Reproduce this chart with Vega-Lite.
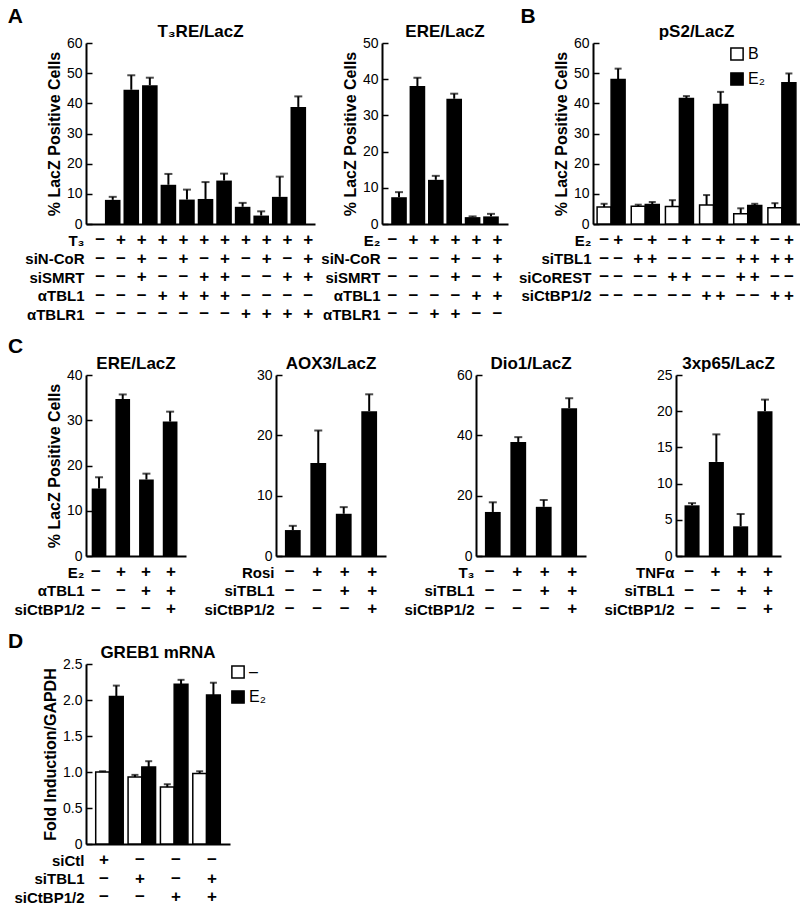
{
"$schema": "https://vega.github.io/schema/vega-lite/v6.json",
"padding": {"left": 7, "top": 6, "right": 4, "bottom": 0},
"config": {
  "font": "Liberation Sans",
  "view": {"stroke": null},
  "axis": {"domainColor": "black", "domainWidth": 2, "tickColor": "black", "tickWidth": 1.5, "labelColor": "black", "labelFontSize": 14, "titleColor": "black", "titleFontSize": 16, "titleFontWeight": "bold", "grid": false, "titlePadding": 4, "labelOverlap": false},
  "axisY": {"tickSize": -6, "labelPadding": 10},
  "title": {"fontSize": 17, "fontWeight": "bold", "color": "black", "offset": -5},
  "text": {"fontSize": 17, "fontWeight": "bold", "color": "black"}
},
"resolve": {"scale": {"fill": "independent", "xOffset": "independent"}, "legend": {"fill": "independent"}},
"datasets": {
  "a1": [{"c":1,"v":8,"e":9},{"c":2,"v":44.5,"e":49.3},{"c":3,"v":46,"e":48.5},{"c":4,"v":13,"e":16.6},{"c":5,"v":8.1,"e":11.4},{"c":6,"v":8.3,"e":13.9},{"c":7,"v":14.4,"e":16.7},{"c":8,"v":5.7,"e":7},{"c":9,"v":2.8,"e":4.2},{"c":10,"v":9,"e":15.7},{"c":11,"v":38.8,"e":42.3}],
  "a1t": [
    {"c":1,"r":"T₃","s":"−"},{"c":2,"r":"T₃","s":"+"},{"c":3,"r":"T₃","s":"+"},{"c":4,"r":"T₃","s":"+"},{"c":5,"r":"T₃","s":"+"},{"c":6,"r":"T₃","s":"+"},{"c":7,"r":"T₃","s":"+"},{"c":8,"r":"T₃","s":"+"},{"c":9,"r":"T₃","s":"+"},{"c":10,"r":"T₃","s":"+"},{"c":11,"r":"T₃","s":"+"},
    {"c":1,"r":"siN-CoR","s":"−"},{"c":2,"r":"siN-CoR","s":"−"},{"c":3,"r":"siN-CoR","s":"+"},{"c":4,"r":"siN-CoR","s":"−"},{"c":5,"r":"siN-CoR","s":"+"},{"c":6,"r":"siN-CoR","s":"−"},{"c":7,"r":"siN-CoR","s":"+"},{"c":8,"r":"siN-CoR","s":"−"},{"c":9,"r":"siN-CoR","s":"+"},{"c":10,"r":"siN-CoR","s":"−"},{"c":11,"r":"siN-CoR","s":"+"},
    {"c":1,"r":"siSMRT","s":"−"},{"c":2,"r":"siSMRT","s":"−"},{"c":3,"r":"siSMRT","s":"+"},{"c":4,"r":"siSMRT","s":"−"},{"c":5,"r":"siSMRT","s":"−"},{"c":6,"r":"siSMRT","s":"+"},{"c":7,"r":"siSMRT","s":"+"},{"c":8,"r":"siSMRT","s":"−"},{"c":9,"r":"siSMRT","s":"−"},{"c":10,"r":"siSMRT","s":"+"},{"c":11,"r":"siSMRT","s":"+"},
    {"c":1,"r":"αTBL1","s":"−"},{"c":2,"r":"αTBL1","s":"−"},{"c":3,"r":"αTBL1","s":"−"},{"c":4,"r":"αTBL1","s":"+"},{"c":5,"r":"αTBL1","s":"+"},{"c":6,"r":"αTBL1","s":"+"},{"c":7,"r":"αTBL1","s":"+"},{"c":8,"r":"αTBL1","s":"−"},{"c":9,"r":"αTBL1","s":"−"},{"c":10,"r":"αTBL1","s":"−"},{"c":11,"r":"αTBL1","s":"−"},
    {"c":1,"r":"αTBLR1","s":"−"},{"c":2,"r":"αTBLR1","s":"−"},{"c":3,"r":"αTBLR1","s":"−"},{"c":4,"r":"αTBLR1","s":"−"},{"c":5,"r":"αTBLR1","s":"−"},{"c":6,"r":"αTBLR1","s":"−"},{"c":7,"r":"αTBLR1","s":"−"},{"c":8,"r":"αTBLR1","s":"+"},{"c":9,"r":"αTBLR1","s":"+"},{"c":10,"r":"αTBLR1","s":"+"},{"c":11,"r":"αTBLR1","s":"+"}
  ],
  "a2": [{"c":1,"v":7.4,"e":8.8},{"c":2,"v":38.1,"e":40.4},{"c":3,"v":12.2,"e":13.3},{"c":4,"v":34.6,"e":36},{"c":5,"v":1.9,"e":2.1},{"c":6,"v":2.1,"e":2.8}],
  "a2t": [
    {"c":1,"r":"E₂","s":"−"},{"c":2,"r":"E₂","s":"+"},{"c":3,"r":"E₂","s":"+"},{"c":4,"r":"E₂","s":"+"},{"c":5,"r":"E₂","s":"+"},{"c":6,"r":"E₂","s":"+"},
    {"c":1,"r":"siN-CoR","s":"−"},{"c":2,"r":"siN-CoR","s":"−"},{"c":3,"r":"siN-CoR","s":"−"},{"c":4,"r":"siN-CoR","s":"+"},{"c":5,"r":"siN-CoR","s":"−"},{"c":6,"r":"siN-CoR","s":"+"},
    {"c":1,"r":"siSMRT","s":"−"},{"c":2,"r":"siSMRT","s":"−"},{"c":3,"r":"siSMRT","s":"−"},{"c":4,"r":"siSMRT","s":"+"},{"c":5,"r":"siSMRT","s":"−"},{"c":6,"r":"siSMRT","s":"+"},
    {"c":1,"r":"αTBL1","s":"−"},{"c":2,"r":"αTBL1","s":"−"},{"c":3,"r":"αTBL1","s":"−"},{"c":4,"r":"αTBL1","s":"−"},{"c":5,"r":"αTBL1","s":"+"},{"c":6,"r":"αTBL1","s":"+"},
    {"c":1,"r":"αTBLR1","s":"−"},{"c":2,"r":"αTBLR1","s":"−"},{"c":3,"r":"αTBLR1","s":"+"},{"c":4,"r":"αTBLR1","s":"+"},{"c":5,"r":"αTBLR1","s":"−"},{"c":6,"r":"αTBLR1","s":"−"}
  ],
  "b": [
    {"g":1,"k":"B","v":5.6,"e":6.7},{"g":1,"k":"E₂","v":47.9,"e":51.5},
    {"g":2,"k":"B","v":5.9,"e":6.4},{"g":2,"k":"E₂","v":6.5,"e":7.3},
    {"g":3,"k":"B","v":5.8,"e":7.9},{"g":3,"k":"E₂","v":41.6,"e":42.4},
    {"g":4,"k":"B","v":6.3,"e":9.6},{"g":4,"k":"E₂","v":39.6,"e":43.8},
    {"g":5,"k":"B","v":3.4,"e":5.2},{"g":5,"k":"E₂","v":6.1,"e":6.7},
    {"g":6,"k":"B","v":5.4,"e":6.9},{"g":6,"k":"E₂","v":46.8,"e":49.9}
  ],
  "bt": [
    {"g":1,"k":"B","r":"E₂","s":"−"},{"g":1,"k":"E₂","r":"E₂","s":"+"},{"g":2,"k":"B","r":"E₂","s":"−"},{"g":2,"k":"E₂","r":"E₂","s":"+"},{"g":3,"k":"B","r":"E₂","s":"−"},{"g":3,"k":"E₂","r":"E₂","s":"+"},{"g":4,"k":"B","r":"E₂","s":"−"},{"g":4,"k":"E₂","r":"E₂","s":"+"},{"g":5,"k":"B","r":"E₂","s":"−"},{"g":5,"k":"E₂","r":"E₂","s":"+"},{"g":6,"k":"B","r":"E₂","s":"−"},{"g":6,"k":"E₂","r":"E₂","s":"+"},
    {"g":1,"k":"B","r":"siTBL1","s":"−"},{"g":1,"k":"E₂","r":"siTBL1","s":"−"},{"g":2,"k":"B","r":"siTBL1","s":"+"},{"g":2,"k":"E₂","r":"siTBL1","s":"+"},{"g":3,"k":"B","r":"siTBL1","s":"−"},{"g":3,"k":"E₂","r":"siTBL1","s":"−"},{"g":4,"k":"B","r":"siTBL1","s":"−"},{"g":4,"k":"E₂","r":"siTBL1","s":"−"},{"g":5,"k":"B","r":"siTBL1","s":"+"},{"g":5,"k":"E₂","r":"siTBL1","s":"+"},{"g":6,"k":"B","r":"siTBL1","s":"+"},{"g":6,"k":"E₂","r":"siTBL1","s":"+"},
    {"g":1,"k":"B","r":"siCoREST","s":"−"},{"g":1,"k":"E₂","r":"siCoREST","s":"−"},{"g":2,"k":"B","r":"siCoREST","s":"−"},{"g":2,"k":"E₂","r":"siCoREST","s":"−"},{"g":3,"k":"B","r":"siCoREST","s":"+"},{"g":3,"k":"E₂","r":"siCoREST","s":"+"},{"g":4,"k":"B","r":"siCoREST","s":"−"},{"g":4,"k":"E₂","r":"siCoREST","s":"−"},{"g":5,"k":"B","r":"siCoREST","s":"+"},{"g":5,"k":"E₂","r":"siCoREST","s":"+"},{"g":6,"k":"B","r":"siCoREST","s":"−"},{"g":6,"k":"E₂","r":"siCoREST","s":"−"},
    {"g":1,"k":"B","r":"siCtBP1/2","s":"−"},{"g":1,"k":"E₂","r":"siCtBP1/2","s":"−"},{"g":2,"k":"B","r":"siCtBP1/2","s":"−"},{"g":2,"k":"E₂","r":"siCtBP1/2","s":"−"},{"g":3,"k":"B","r":"siCtBP1/2","s":"−"},{"g":3,"k":"E₂","r":"siCtBP1/2","s":"−"},{"g":4,"k":"B","r":"siCtBP1/2","s":"+"},{"g":4,"k":"E₂","r":"siCtBP1/2","s":"+"},{"g":5,"k":"B","r":"siCtBP1/2","s":"−"},{"g":5,"k":"E₂","r":"siCtBP1/2","s":"−"},{"g":6,"k":"B","r":"siCtBP1/2","s":"+"},{"g":6,"k":"E₂","r":"siCtBP1/2","s":"+"}
  ],
  "c1": [{"c":1,"v":14.9,"e":17.4},{"c":2,"v":34.7,"e":35.7},{"c":3,"v":16.9,"e":18.2},{"c":4,"v":29.7,"e":31.9}],
  "c1t": [
    {"c":1,"r":"E₂","s":"−"},{"c":2,"r":"E₂","s":"+"},{"c":3,"r":"E₂","s":"+"},{"c":4,"r":"E₂","s":"+"},
    {"c":1,"r":"αTBL1","s":"−"},{"c":2,"r":"αTBL1","s":"−"},{"c":3,"r":"αTBL1","s":"+"},{"c":4,"r":"αTBL1","s":"+"},
    {"c":1,"r":"siCtBP1/2","s":"−"},{"c":2,"r":"siCtBP1/2","s":"−"},{"c":3,"r":"siCtBP1/2","s":"−"},{"c":4,"r":"siCtBP1/2","s":"+"}
  ],
  "c2": [{"c":1,"v":4.3,"e":5.0},{"c":2,"v":15.4,"e":20.8},{"c":3,"v":7.0,"e":8.1},{"c":4,"v":24.0,"e":26.8}],
  "c2t": [
    {"c":1,"r":"Rosi","s":"−"},{"c":2,"r":"Rosi","s":"+"},{"c":3,"r":"Rosi","s":"+"},{"c":4,"r":"Rosi","s":"+"},
    {"c":1,"r":"siTBL1","s":"−"},{"c":2,"r":"siTBL1","s":"−"},{"c":3,"r":"siTBL1","s":"+"},{"c":4,"r":"siTBL1","s":"+"},
    {"c":1,"r":"siCtBP1/2","s":"−"},{"c":2,"r":"siCtBP1/2","s":"−"},{"c":3,"r":"siCtBP1/2","s":"−"},{"c":4,"r":"siCtBP1/2","s":"+"}
  ],
  "c3": [{"c":1,"v":14.6,"e":17.8},{"c":2,"v":37.8,"e":39.4},{"c":3,"v":16.3,"e":18.6},{"c":4,"v":49,"e":52.3}],
  "c3t": [
    {"c":1,"r":"T₃","s":"−"},{"c":2,"r":"T₃","s":"+"},{"c":3,"r":"T₃","s":"+"},{"c":4,"r":"T₃","s":"+"},
    {"c":1,"r":"siTBL1","s":"−"},{"c":2,"r":"siTBL1","s":"−"},{"c":3,"r":"siTBL1","s":"+"},{"c":4,"r":"siTBL1","s":"+"},
    {"c":1,"r":"siCtBP1/2","s":"−"},{"c":2,"r":"siCtBP1/2","s":"−"},{"c":3,"r":"siCtBP1/2","s":"−"},{"c":4,"r":"siCtBP1/2","s":"+"}
  ],
  "c4": [{"c":1,"v":7.0,"e":7.3},{"c":2,"v":13.0,"e":16.8},{"c":3,"v":4.1,"e":5.8},{"c":4,"v":20.0,"e":21.6}],
  "c4t": [
    {"c":1,"r":"TNFα","s":"−"},{"c":2,"r":"TNFα","s":"+"},{"c":3,"r":"TNFα","s":"+"},{"c":4,"r":"TNFα","s":"+"},
    {"c":1,"r":"siTBL1","s":"−"},{"c":2,"r":"siTBL1","s":"−"},{"c":3,"r":"siTBL1","s":"+"},{"c":4,"r":"siTBL1","s":"+"},
    {"c":1,"r":"siCtBP1/2","s":"−"},{"c":2,"r":"siCtBP1/2","s":"−"},{"c":3,"r":"siCtBP1/2","s":"−"},{"c":4,"r":"siCtBP1/2","s":"+"}
  ],
  "d": [
    {"g":1,"k":"–","v":1.0,"e":1.01},{"g":1,"k":"E₂","v":2.05,"e":2.2},
    {"g":2,"k":"–","v":0.93,"e":0.96},{"g":2,"k":"E₂","v":1.07,"e":1.15},
    {"g":3,"k":"–","v":0.79,"e":0.83},{"g":3,"k":"E₂","v":2.22,"e":2.28},
    {"g":4,"k":"–","v":0.98,"e":1.01},{"g":4,"k":"E₂","v":2.07,"e":2.24}
  ],
  "dt": [
    {"g":1,"r":"siCtl","s":"+"},{"g":2,"r":"siCtl","s":"−"},{"g":3,"r":"siCtl","s":"−"},{"g":4,"r":"siCtl","s":"−"},
    {"g":1,"r":"siTBL1","s":"−"},{"g":2,"r":"siTBL1","s":"+"},{"g":3,"r":"siTBL1","s":"−"},{"g":4,"r":"siTBL1","s":"+"},
    {"g":1,"r":"siCtBP1/2","s":"−"},{"g":2,"r":"siCtBP1/2","s":"−"},{"g":3,"r":"siCtBP1/2","s":"+"},{"g":4,"r":"siCtBP1/2","s":"+"}
  ]
},
"columns": 1,
"align": "none",
"spacing": 12,
"concat": [
 {"hconcat": [
  {"title": {"text": "A", "anchor": "start", "frame": "bounds", "fontSize": 21, "dx": -17, "offset": -4},
   "spacing": 5,
   "hconcat": [
    {"spacing": 0, "vconcat": [
      {"width": 229, "height": 181, "title": "T₃RE/LacZ", "data": {"name": "a1"},
       "encoding": {"x": {"field": "c", "type": "ordinal", "scale": {"domain": [1,2,3,4,5,6,7,8,9,10,11], "paddingInner": 0.16, "paddingOuter": 0.75, "align": 0.68}, "axis": {"labels": false, "ticks": false, "title": null}}},
       "layer": [
        {"mark": {"type": "bar", "color": "black"}, "encoding": {"y": {"field": "v", "type": "quantitative", "title": "% LacZ Positive Cells", "scale": {"domain": [0,60], "nice": false}, "axis": {"values": [0,10,20,30,40,50,60], "tickSize": -6}}}},
        {"mark": {"type": "rule", "color": "black", "strokeWidth": 2}, "encoding": {"y": {"field": "v", "type": "quantitative", "title": "% LacZ Positive Cells", "scale": {"domain": [0,60], "nice": false}, "axis": {"values": [0,10,20,30,40,50,60], "tickSize": -6}}, "y2": {"field": "e"}}},
        {"mark": {"type": "tick", "color": "black", "thickness": 2, "size": 8}, "encoding": {"y": {"field": "e", "type": "quantitative", "title": "% LacZ Positive Cells", "scale": {"domain": [0,60], "nice": false}, "axis": {"values": [0,10,20,30,40,50,60], "tickSize": -6}}}}
       ]},
      {"width": 229, "height": 92.5, "data": {"name": "a1t"}, "mark": {"type": "text"},
       "encoding": {
        "x": {"field": "c", "type": "ordinal", "scale": {"domain": [1,2,3,4,5,6,7,8,9,10,11], "paddingInner": 0.16, "paddingOuter": 0.75, "align": 0.68}, "axis": null},
        "y": {"field": "r", "type": "nominal", "scale": {"domain": ["T₃","siN-CoR","siSMRT","αTBL1","αTBLR1"]}, "axis": {"title": null, "domain": false, "ticks": false, "labelPadding": 2, "labelFontSize": 15, "labelFontWeight": "bold"}},
        "text": {"field": "s"}}}
    ]},
    {"spacing": 0, "vconcat": [
      {"width": 126, "height": 181, "title": "ERE/LacZ", "data": {"name": "a2"},
       "encoding": {"x": {"field": "c", "type": "ordinal", "scale": {"domain": [1,2,3,4,5,6], "paddingInner": 0.15, "paddingOuter": 0.5}, "axis": {"labels": false, "ticks": false, "title": null}}},
       "layer": [
        {"mark": {"type": "bar", "color": "black"}, "encoding": {"y": {"field": "v", "type": "quantitative", "title": "% LacZ Positive Cells", "scale": {"domain": [0,50], "nice": false}, "axis": {"values": [0,10,20,30,40,50], "tickSize": -6}}}},
        {"mark": {"type": "rule", "color": "black", "strokeWidth": 2}, "encoding": {"y": {"field": "v", "type": "quantitative", "title": "% LacZ Positive Cells", "scale": {"domain": [0,50], "nice": false}, "axis": {"values": [0,10,20,30,40,50], "tickSize": -6}}, "y2": {"field": "e"}}},
        {"mark": {"type": "tick", "color": "black", "thickness": 2, "size": 8}, "encoding": {"y": {"field": "e", "type": "quantitative", "title": "% LacZ Positive Cells", "scale": {"domain": [0,50], "nice": false}, "axis": {"values": [0,10,20,30,40,50], "tickSize": -6}}}}
       ]},
      {"width": 126, "height": 92.5, "data": {"name": "a2t"}, "mark": {"type": "text"},
       "encoding": {
        "x": {"field": "c", "type": "ordinal", "scale": {"domain": [1,2,3,4,5,6], "paddingInner": 0.15, "paddingOuter": 0.5}, "axis": null},
        "y": {"field": "r", "type": "nominal", "scale": {"domain": ["E₂","siN-CoR","siSMRT","αTBL1","αTBLR1"]}, "axis": {"title": null, "domain": false, "ticks": false, "labelPadding": 2, "labelFontSize": 15, "labelFontWeight": "bold"}},
        "text": {"field": "s"}}}
    ]}
   ]},
  {"title": {"text": "B", "anchor": "start", "frame": "bounds", "fontSize": 21, "dx": 2, "offset": -4},
   "spacing": 0,
   "vconcat": [
      {"width": 207, "height": 181, "title": "pS2/LacZ", "data": {"name": "b"},
       "encoding": {
        "x": {"field": "g", "type": "ordinal", "scale": {"domain": [1,2,3,4,5,6], "paddingInner": 0.18, "paddingOuter": 0.12}, "axis": {"labels": false, "ticks": false, "title": null}},
        "xOffset": {"field": "k", "type": "nominal", "scale": {"domain": ["B","E₂"], "paddingInner": 0, "paddingOuter": 0}}},
       "layer": [
        {"mark": {"type": "bar", "stroke": "black", "strokeWidth": 1.5}, "encoding": {
          "y": {"field": "v", "type": "quantitative", "title": "% LacZ Positive Cells", "scale": {"domain": [0,60], "nice": false}, "axis": {"values": [0,10,20,30,40,50,60], "tickSize": -6}},
          "fill": {"field": "k", "type": "nominal", "scale": {"domain": ["B","E₂"], "range": ["white","black"]},
                   "legend": {"title": null, "orient": "none", "legendX": 643, "legendY": 3, "padding": 0, "symbolType": "square", "symbolSize": 150, "symbolStrokeColor": "black", "symbolStrokeWidth": 1.5, "labelFontSize": 16, "labelColor": "black", "labelOffset": 3, "rowPadding": 5}}}},
        {"mark": {"type": "rule", "color": "black", "strokeWidth": 2}, "encoding": {"y": {"field": "v", "type": "quantitative", "title": "% LacZ Positive Cells", "scale": {"domain": [0,60], "nice": false}, "axis": {"values": [0,10,20,30,40,50,60], "tickSize": -6}}, "y2": {"field": "e"}}},
        {"mark": {"type": "tick", "color": "black", "thickness": 2, "size": 7}, "encoding": {"y": {"field": "e", "type": "quantitative", "title": "% LacZ Positive Cells", "scale": {"domain": [0,60], "nice": false}, "axis": {"values": [0,10,20,30,40,50,60], "tickSize": -6}}}}
       ]},
      {"width": 207, "height": 74, "data": {"name": "bt"}, "mark": {"type": "text"},
       "encoding": {
        "x": {"field": "g", "type": "ordinal", "scale": {"domain": [1,2,3,4,5,6], "paddingInner": 0.18, "paddingOuter": 0.12}, "axis": null},
        "xOffset": {"field": "k", "type": "nominal", "scale": {"domain": ["B","E₂"], "paddingInner": 0, "paddingOuter": 0}},
        "y": {"field": "r", "type": "nominal", "scale": {"domain": ["E₂","siTBL1","siCoREST","siCtBP1/2"]}, "axis": {"title": null, "domain": false, "ticks": false, "labelPadding": 2, "labelFontSize": 15, "labelFontWeight": "bold"}},
        "text": {"field": "s"}}}
   ]}
 ], "spacing": 10},
 {"title": {"text": "C", "anchor": "start", "frame": "bounds", "fontSize": 21, "dx": -6, "offset": -2},
  "spacing": 17,
  "hconcat": [
    {"spacing": 0, "vconcat": [
      {"width": 100, "height": 181, "title": "ERE/LacZ", "data": {"name": "c1"},
       "encoding": {"x": {"field": "c", "type": "ordinal", "scale": {"domain": [1,2,3,4], "paddingInner": 0.38, "paddingOuter": 0.3, "align": 0.4}, "axis": {"labels": false, "ticks": false, "title": null}}},
       "layer": [
        {"mark": {"type": "bar", "color": "black"}, "encoding": {"y": {"field": "v", "type": "quantitative", "title": "% LacZ Positive Cells", "scale": {"domain": [0,40], "nice": false}, "axis": {"values": [0,10,20,30,40], "tickSize": -6}}}},
        {"mark": {"type": "rule", "color": "black", "strokeWidth": 2}, "encoding": {"y": {"field": "v", "type": "quantitative", "title": "% LacZ Positive Cells", "scale": {"domain": [0,40], "nice": false}, "axis": {"values": [0,10,20,30,40], "tickSize": -6}}, "y2": {"field": "e"}}},
        {"mark": {"type": "tick", "color": "black", "thickness": 2, "size": 8}, "encoding": {"y": {"field": "e", "type": "quantitative", "title": "% LacZ Positive Cells", "scale": {"domain": [0,40], "nice": false}, "axis": {"values": [0,10,20,30,40], "tickSize": -6}}}}
       ]},
      {"width": 100, "height": 55.5, "data": {"name": "c1t"}, "mark": {"type": "text"},
       "encoding": {
        "x": {"field": "c", "type": "ordinal", "scale": {"domain": [1,2,3,4], "paddingInner": 0.38, "paddingOuter": 0.3, "align": 0.4}, "axis": null},
        "y": {"field": "r", "type": "nominal", "scale": {"domain": ["E₂","αTBL1","siCtBP1/2"]}, "axis": {"title": null, "domain": false, "ticks": false, "labelPadding": 2, "labelFontSize": 15, "labelFontWeight": "bold"}},
        "text": {"field": "s"}}}
    ]},
    {"spacing": 0, "vconcat": [
      {"width": 110, "height": 181, "title": "AOX3/LacZ", "data": {"name": "c2"},
       "encoding": {"x": {"field": "c", "type": "ordinal", "scale": {"domain": [1,2,3,4], "paddingInner": 0.38, "paddingOuter": 0.35}, "axis": {"labels": false, "ticks": false, "title": null}}},
       "layer": [
        {"mark": {"type": "bar", "color": "black"}, "encoding": {"y": {"field": "v", "type": "quantitative", "title": null, "scale": {"domain": [0,30], "nice": false}, "axis": {"values": [0,10,20,30], "tickSize": -6}}}},
        {"mark": {"type": "rule", "color": "black", "strokeWidth": 2}, "encoding": {"y": {"field": "v", "type": "quantitative", "title": null, "scale": {"domain": [0,30], "nice": false}, "axis": {"values": [0,10,20,30], "tickSize": -6}}, "y2": {"field": "e"}}},
        {"mark": {"type": "tick", "color": "black", "thickness": 2, "size": 8}, "encoding": {"y": {"field": "e", "type": "quantitative", "title": null, "scale": {"domain": [0,30], "nice": false}, "axis": {"values": [0,10,20,30], "tickSize": -6}}}}
       ]},
      {"width": 110, "height": 55.5, "data": {"name": "c2t"}, "mark": {"type": "text"},
       "encoding": {
        "x": {"field": "c", "type": "ordinal", "scale": {"domain": [1,2,3,4], "paddingInner": 0.38, "paddingOuter": 0.35}, "axis": null},
        "y": {"field": "r", "type": "nominal", "scale": {"domain": ["Rosi","siTBL1","siCtBP1/2"]}, "axis": {"title": null, "domain": false, "ticks": false, "labelPadding": 2, "labelFontSize": 15, "labelFontWeight": "bold"}},
        "text": {"field": "s"}}}
    ]},
    {"spacing": 0, "vconcat": [
      {"width": 110, "height": 181, "title": "Dio1/LacZ", "data": {"name": "c3"},
       "encoding": {"x": {"field": "c", "type": "ordinal", "scale": {"domain": [1,2,3,4], "paddingInner": 0.38, "paddingOuter": 0.35}, "axis": {"labels": false, "ticks": false, "title": null}}},
       "layer": [
        {"mark": {"type": "bar", "color": "black"}, "encoding": {"y": {"field": "v", "type": "quantitative", "title": null, "scale": {"domain": [0,60], "nice": false}, "axis": {"values": [0,20,40,60], "tickSize": -6}}}},
        {"mark": {"type": "rule", "color": "black", "strokeWidth": 2}, "encoding": {"y": {"field": "v", "type": "quantitative", "title": null, "scale": {"domain": [0,60], "nice": false}, "axis": {"values": [0,20,40,60], "tickSize": -6}}, "y2": {"field": "e"}}},
        {"mark": {"type": "tick", "color": "black", "thickness": 2, "size": 8}, "encoding": {"y": {"field": "e", "type": "quantitative", "title": null, "scale": {"domain": [0,60], "nice": false}, "axis": {"values": [0,20,40,60], "tickSize": -6}}}}
       ]},
      {"width": 110, "height": 55.5, "data": {"name": "c3t"}, "mark": {"type": "text"},
       "encoding": {
        "x": {"field": "c", "type": "ordinal", "scale": {"domain": [1,2,3,4], "paddingInner": 0.38, "paddingOuter": 0.35}, "axis": null},
        "y": {"field": "r", "type": "nominal", "scale": {"domain": ["T₃","siTBL1","siCtBP1/2"]}, "axis": {"title": null, "domain": false, "ticks": false, "labelPadding": 2, "labelFontSize": 15, "labelFontWeight": "bold"}},
        "text": {"field": "s"}}}
    ]},
    {"spacing": 0, "vconcat": [
      {"width": 105, "height": 181, "title": "3xp65/LacZ", "data": {"name": "c4"},
       "encoding": {"x": {"field": "c", "type": "ordinal", "scale": {"domain": [1,2,3,4], "paddingInner": 0.38, "paddingOuter": 0.35}, "axis": {"labels": false, "ticks": false, "title": null}}},
       "layer": [
        {"mark": {"type": "bar", "color": "black"}, "encoding": {"y": {"field": "v", "type": "quantitative", "title": null, "scale": {"domain": [0,25], "nice": false}, "axis": {"values": [0,5,10,15,20,25], "tickSize": -6}}}},
        {"mark": {"type": "rule", "color": "black", "strokeWidth": 2}, "encoding": {"y": {"field": "v", "type": "quantitative", "title": null, "scale": {"domain": [0,25], "nice": false}, "axis": {"values": [0,5,10,15,20,25], "tickSize": -6}}, "y2": {"field": "e"}}},
        {"mark": {"type": "tick", "color": "black", "thickness": 2, "size": 8}, "encoding": {"y": {"field": "e", "type": "quantitative", "title": null, "scale": {"domain": [0,25], "nice": false}, "axis": {"values": [0,5,10,15,20,25], "tickSize": -6}}}}
       ]},
      {"width": 105, "height": 55.5, "data": {"name": "c4t"}, "mark": {"type": "text"},
       "encoding": {
        "x": {"field": "c", "type": "ordinal", "scale": {"domain": [1,2,3,4], "paddingInner": 0.38, "paddingOuter": 0.35}, "axis": null},
        "y": {"field": "r", "type": "nominal", "scale": {"domain": ["TNFα","siTBL1","siCtBP1/2"]}, "axis": {"title": null, "domain": false, "ticks": false, "labelPadding": 2, "labelFontSize": 15, "labelFontWeight": "bold"}},
        "text": {"field": "s"}}}
    ]}
  ]},
 {"title": {"text": "D", "anchor": "start", "frame": "bounds", "fontSize": 21, "dx": -6, "offset": -8},
  "spacing": 0,
  "vconcat": [
      {"width": 144, "height": 180, "title": "GREB1 mRNA", "data": {"name": "d"},
       "encoding": {
        "x": {"field": "g", "type": "ordinal", "scale": {"domain": [1,2,3,4], "paddingInner": 0.15, "paddingOuter": 0.3}, "axis": {"labels": false, "ticks": false, "title": null}},
        "xOffset": {"field": "k", "type": "nominal", "scale": {"domain": ["–","E₂"], "paddingInner": 0, "paddingOuter": 0}}},
       "layer": [
        {"mark": {"type": "bar", "stroke": "black", "strokeWidth": 1.5}, "encoding": {
          "y": {"field": "v", "type": "quantitative", "title": "Fold Induction/GAPDH", "scale": {"domain": [0,2.5], "nice": false}, "axis": {"values": [0,0.5,1,1.5,2,2.5], "tickSize": -6, "labelExpr": "datum.value == 0 ? '0' : format(datum.value, '.1f')"}},
          "fill": {"field": "k", "type": "nominal", "scale": {"domain": ["–","E₂"], "range": ["white","black"]},
                   "legend": {"title": null, "orient": "right", "offset": 0, "padding": 0, "symbolType": "square", "symbolSize": 150, "symbolStrokeColor": "black", "symbolStrokeWidth": 1.5, "labelFontSize": 16, "labelColor": "black", "labelOffset": 3, "rowPadding": 5}}}},
        {"mark": {"type": "rule", "color": "black", "strokeWidth": 2}, "encoding": {"y": {"field": "v", "type": "quantitative", "title": "Fold Induction/GAPDH", "scale": {"domain": [0,2.5], "nice": false}, "axis": {"values": [0,0.5,1,1.5,2,2.5], "tickSize": -6, "labelExpr": "datum.value == 0 ? '0' : format(datum.value, '.1f')"}}, "y2": {"field": "e"}}},
        {"mark": {"type": "tick", "color": "black", "thickness": 2, "size": 7}, "encoding": {"y": {"field": "e", "type": "quantitative", "title": "Fold Induction/GAPDH", "scale": {"domain": [0,2.5], "nice": false}, "axis": {"values": [0,0.5,1,1.5,2,2.5], "tickSize": -6, "labelExpr": "datum.value == 0 ? '0' : format(datum.value, '.1f')"}}}}
       ]},
      {"width": 144, "height": 55.5, "data": {"name": "dt"}, "mark": {"type": "text"},
       "encoding": {
        "x": {"field": "g", "type": "ordinal", "scale": {"domain": [1,2,3,4], "paddingInner": 0.15, "paddingOuter": 0.3}, "axis": null},
        "y": {"field": "r", "type": "nominal", "scale": {"domain": ["siCtl","siTBL1","siCtBP1/2"]}, "axis": {"title": null, "domain": false, "ticks": false, "labelPadding": 2, "labelFontSize": 15, "labelFontWeight": "bold"}},
        "text": {"field": "s"}}}
  ]}
]
}
